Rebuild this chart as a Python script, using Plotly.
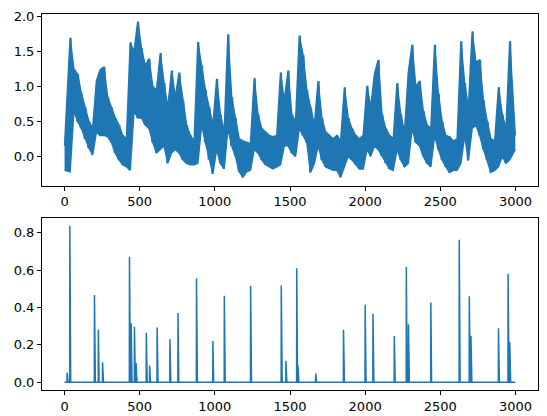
import plotly.graph_objects as go

# ---- data ----
N = 3000
BIN = 25  # width (in samples) of each envelope bin of the top series

# lower / upper envelope of the top series, one pair per 25-sample bin
top_low = [
    -0.20, -0.22, 0.65, 0.50, 0.40, 0.25, 0.12, 0.02, 0.35, 0.30,
    0.30, 0.28, 0.20, 0.05, -0.05, -0.12, -0.15, -0.20, 0.65, 0.55,
    0.55, 0.45, 0.40, 0.20, 0.05, 0.10, 0.15, -0.10, 0.05, 0.10,
    0.05, -0.05, -0.10, -0.12, -0.12, -0.10, 0.45, 0.20, -0.05, -0.25,
    0.10, -0.10, -0.18, 0.40, 0.15, 0.00, -0.22, -0.30, -0.22, -0.20,
    0.10, 0.05, -0.05, -0.12, -0.15, -0.18, -0.15, -0.12, 0.15, 0.15,
    0.05, 0.00, 0.40, 0.30, 0.20, -0.23, -0.10, 0.15, -0.05, -0.15,
    -0.18, -0.20, -0.20, -0.30, -0.15, 0.00, -0.05, -0.12, -0.18, -0.18,
    0.10, 0.00, 0.15, 0.10, 0.00, -0.10, -0.18, -0.20, 0.10, -0.05,
    -0.15, -0.10, 0.40, 0.20, 0.15, 0.00, -0.10, -0.15, 0.30, 0.10,
    -0.05, -0.15, -0.23, -0.20, -0.20, -0.10, 0.30, -0.06, 0.40, 0.45,
    0.30, 0.10, -0.05, -0.23, -0.20, -0.15, 0.00, -0.10, -0.05, 0.10,
]
top_high = [
    0.15, 1.70, 1.25, 1.18, 0.90, 0.70, 0.50, 0.40, 1.08, 1.24,
    1.28, 0.85, 0.70, 0.55, 0.45, 0.30, 0.25, 1.63, 1.50, 1.93,
    1.55, 1.30, 1.40, 1.00, 0.95, 1.48, 1.05, 0.70, 1.23, 0.85,
    1.20, 0.80, 0.45, 0.30, 0.22, 1.64, 1.30, 0.95, 0.70, 0.45,
    1.11, 0.60, 0.35, 1.75, 0.85, 0.55, 0.25, 0.22, 0.20, 0.18,
    1.12, 0.60, 0.40, 0.35, 0.30, 0.28, 0.30, 1.20, 0.80, 1.23,
    0.60, 0.50, 1.73, 1.45, 0.95, 0.70, 0.45, 1.08, 0.55, 0.35,
    0.30, 0.25, 0.30, 0.22, 0.99, 0.55, 0.40, 0.30, 0.25, 0.30,
    1.01, 0.70, 1.18, 1.38, 0.60, 0.40, 0.30, 0.25, 1.05, 0.60,
    0.35, 1.20, 1.60, 1.00, 1.08, 0.65, 0.45, 0.40, 1.60, 0.90,
    0.50, 0.30, 0.28, 0.22, 0.25, 1.65, 1.05, 0.70, 1.79, 1.35,
    1.38, 0.80, 0.50, 0.25, 0.22, 0.99, 0.60, 0.40, 1.65, 0.30,
]

# sparse events of the bottom series
spike_idx = [17, 35, 199, 225, 253, 432, 443, 465, 476, 544, 566, 616, 701,
             755, 878, 987, 1063, 1238, 1442, 1473, 1545, 1553, 1671, 1856,
             2000, 2052, 2194, 2274, 2288, 2437, 2626, 2693, 2704, 2887,
             2951, 2962]
spike_val = [0.051, 0.838, 0.466, 0.282, 0.106, 0.672, 0.315, 0.297, 0.102,
             0.264, 0.089, 0.293, 0.230, 0.370, 0.556, 0.220, 0.463, 0.516,
             0.518, 0.115, 0.610, 0.088, 0.046, 0.280, 0.414, 0.366, 0.247,
             0.617, 0.310, 0.427, 0.762, 0.460, 0.249, 0.288, 0.580, 0.216]

# ---- build traces ----
bin_x = [k * BIN + 12 for k in range(len(top_low))]
bin_x[0] = 0
bin_x[-1] = N - 1

zig_x, zig_y = [], []
for k, (lo, hi) in enumerate(zip(top_low, top_high)):
    zig_x += [k * BIN + 6, k * BIN + 18]
    zig_y += [lo, hi]

bot = [0.0] * N
for i, v in zip(spike_idx, spike_val):
    bot[i] = v

blue = "#1f77b4"
fig = go.Figure()
fig.add_trace(go.Scatter(x=bin_x, y=top_low, mode="lines",
                         line=dict(color=blue, width=1.5),
                         xaxis="x", yaxis="y"))
fig.add_trace(go.Scatter(x=bin_x, y=top_high, mode="lines", fill="tonexty",
                         fillcolor=blue, line=dict(color=blue, width=1.5),
                         xaxis="x", yaxis="y"))
fig.add_trace(go.Scatter(x=zig_x, y=zig_y, mode="lines",
                         line=dict(color=blue, width=1.2),
                         xaxis="x", yaxis="y"))
fig.add_trace(go.Scatter(x=list(range(N)), y=bot, mode="lines",
                         line=dict(color=blue, width=1.5),
                         xaxis="x2", yaxis="y2"))

axis_common = dict(showgrid=False, zeroline=False, showline=True, mirror=True,
                   linecolor="black", linewidth=1, ticks="outside", ticklen=4,
                   tickwidth=1, tickcolor="black", automargin=False,
                   tickfont=dict(family="DejaVu Sans", size=13, color="black"))

xt = [0, 500, 1000, 1500, 2000, 2500, 3000]
fig.update_layout(
    xaxis=dict(range=[-150, 3150], tickvals=xt, domain=[0, 1], anchor="y", **axis_common),
    yaxis=dict(range=[-0.42, 2.04], tickvals=[0, 0.5, 1.0, 1.5, 2.0], tickformat=".1f",
               domain=[0.5435, 1], anchor="x", **axis_common),
    xaxis2=dict(range=[-150, 3150], tickvals=xt, domain=[0, 1], anchor="y2", **axis_common),
    yaxis2=dict(range=[-0.042, 0.877], tickvals=[0, 0.2, 0.4, 0.6, 0.8], tickformat=".1f",
                domain=[0, 0.4565], anchor="x2", **axis_common),
    width=539, height=408, showlegend=False,
    margin=dict(l=34, r=9, t=6, b=26),
    paper_bgcolor="white", plot_bgcolor="white",
)
fig.write_html("out.html")
